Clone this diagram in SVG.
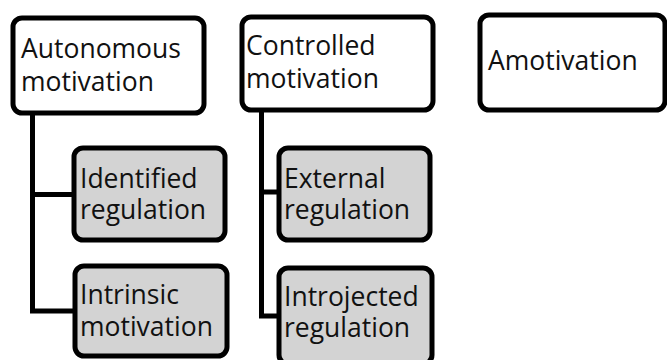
<svg xmlns="http://www.w3.org/2000/svg" width="667" height="360" viewBox="0 0 667 360">
<style>
.box{stroke:#000;stroke-width:5;}
.top{fill:#fff;}
.sub{fill:#d3d3d3;}
.lbl{font-family:"Open Sans","Liberation Sans",Arial,sans-serif;font-size:26.5px;fill:#111;}
.conn{fill:none;stroke:#000;stroke-width:5;stroke-linejoin:miter;}
</style>
<rect width="667" height="360" fill="#fff"/>
<g id="connectors">
<path class="conn" d="M32.5,113 V311 H75 M32.5,194.5 H74"/>
<path class="conn" d="M261.5,110 V316 H279 M261.5,192 H279"/>
</g>
<g id="autonomous">
<rect class="box top" x="13" y="18" width="191" height="95" rx="9"/>
<text class="lbl" x="21" y="58">Autonomous</text>
<text class="lbl" x="21" y="91">motivation</text>
</g>
<g id="controlled">
<rect class="box top" x="242" y="17" width="191" height="93" rx="9"/>
<text class="lbl" x="246" y="55">Controlled</text>
<text class="lbl" x="246" y="88">motivation</text>
</g>
<g id="amotivation">
<rect class="box top" x="480" y="15" width="185" height="95" rx="9"/>
<text class="lbl" x="488" y="70">Amotivation</text>
</g>
<g id="identified">
<rect class="box sub" x="74" y="148" width="151" height="92" rx="9"/>
<text class="lbl" x="80" y="188">Identified</text>
<text class="lbl" x="80" y="219">regulation</text>
</g>
<g id="intrinsic">
<rect class="box sub" x="75" y="266" width="152" height="90" rx="9"/>
<text class="lbl" x="80" y="304">Intrinsic</text>
<text class="lbl" x="80" y="336">motivation</text>
</g>
<g id="external">
<rect class="box sub" x="279" y="148" width="151" height="92" rx="9"/>
<text class="lbl" x="284" y="188">External</text>
<text class="lbl" x="284" y="219">regulation</text>
</g>
<g id="introjected">
<rect class="box sub" x="279" y="268" width="153" height="96" rx="9"/>
<text class="lbl" x="284" y="306">Introjected</text>
<text class="lbl" x="284" y="337">regulation</text>
</g>
</svg>
